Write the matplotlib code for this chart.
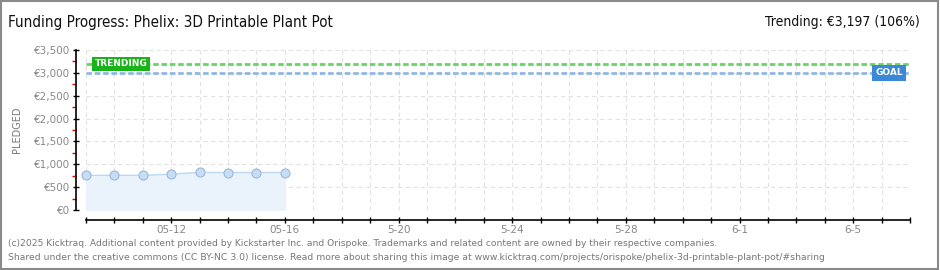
#!/usr/bin/python
# -*- coding: utf-8 -*-

import numpy as np
import matplotlib
matplotlib.use('Agg')
import matplotlib.pyplot as plt
import matplotlib.dates as mdates
from matplotlib.patches import Rectangle
import datetime as dt

dates = ['2025-05-09', '2025-05-10', '2025-05-11', '2025-05-12',
         '2025-05-13', '2025-05-14', '2025-05-15', '2025-05-16']
pledged = [758, 758, 758, 785, 822, 820, 820, 820]
goal = 3000
trending = 3197
x_start = '2025-05-09'
x_end = '2025-06-07'
title = 'Funding Progress: Phelix: 3D Printable Plant Pot'
trend_text = 'Trending: €3,197 (106%)'
footer = ['(c)2025 Kicktraq. Additional content provided by Kickstarter Inc. and Orispoke. '
          'Trademarks and related content are owned by their respective companies.',
          'Shared under the creative commons (CC BY-NC 3.0) license. Read more about sharing '
          'this image at www.kicktraq.com/projects/orispoke/phelix-3d-printable-plant-pot/#sharing']


def main():
    plt.rcParams['font.family'] = ['DejaVu Sans']
    d = [dt.datetime.strptime(s, '%Y-%m-%d') for s in dates]
    x0 = dt.datetime.strptime(x_start, '%Y-%m-%d')
    x1 = dt.datetime.strptime(x_end, '%Y-%m-%d')

    fig = plt.figure(figsize=(9.4, 2.7), dpi=100)
    fig.patches.append(Rectangle((0.001, 0.002), 0.997, 0.995, transform=fig.transFigure,
                                 fill=False, edgecolor='#8a8a8a', linewidth=1.5))
    ax = fig.add_axes([86 / 940, 1 - 210 / 270, 824 / 940, 160 / 270])

    ax.fill_between(d, pledged, 0, color='#eaf3fc', zorder=1)
    ax.plot(d, pledged, color='#bcd8f2', linewidth=1, zorder=2)
    ax.plot(d, pledged, 'o', markersize=6.5, markerfacecolor='#c6ddf6',
            markeredgecolor='#9db8d6', markeredgewidth=0.8, zorder=3, clip_on=False)

    ax.axhline(trending, color='#66d466', linewidth=2, dashes=(2, 1), zorder=2)
    ax.axhline(goal, color='#93b7e0', linewidth=2, dashes=(2, 1), zorder=2)

    ax.text(mdates.date2num(x0) + 0.3, trending, 'TRENDING', color='white', fontsize=6.5,
            fontweight='bold', va='center', ha='left', zorder=5,
            bbox=dict(boxstyle='square,pad=0.3', facecolor='#1bb31b', edgecolor='none'))
    ax.text(mdates.date2num(x1) - 0.25, goal, 'GOAL', color='white', fontsize=6.5,
            fontweight='bold', va='center', ha='right', zorder=5,
            bbox=dict(boxstyle='square,pad=0.35', facecolor='#3a89d8', edgecolor='none'))

    ax.set_xlim(x0, x1)
    ax.set_ylim(0, 3500)

    ticks = mdates.drange(x0, x1 + dt.timedelta(days=1), dt.timedelta(days=1))
    labels = []
    for t in ticks:
        day = mdates.num2date(t)
        if (day.date() - dt.date(2025, 5, 12)).days % 4 == 0:
            if day.month == 5 and day.day <= 16:
                labels.append(day.strftime('%m-%d'))
            else:
                labels.append('%d-%d' % (day.month, day.day))
        else:
            labels.append('')
    ax.set_xticks(ticks)
    ax.set_xticklabels(labels)

    ax.set_yticks(np.arange(0, 3501, 500))
    ax.set_yticklabels(['€{:,}'.format(v) for v in range(0, 3501, 500)])
    ax.set_yticks(np.arange(250, 3500, 500), minor=True)

    ax.grid(True, which='major', color='#e2e2e2', linestyle=(0, (4, 3)), linewidth=0.8)
    ax.set_axisbelow(True)

    for s in ['top', 'right']:
        ax.spines[s].set_visible(False)
    ax.spines['left'].set_position(('outward', 7.2))
    ax.spines['bottom'].set_position(('outward', 7.2))
    ax.spines['left'].set_linewidth(1.2)
    ax.spines['bottom'].set_linewidth(1.2)

    ax.tick_params(axis='x', which='major', direction='inout', length=5, width=1,
                   labelsize=7.5, labelcolor='#888888', pad=1)
    ax.tick_params(axis='y', which='major', direction='inout', length=5, width=1,
                   labelsize=7.5, labelcolor='#888888', pad=2)
    ax.tick_params(axis='y', which='minor', direction='out', length=3, width=1, color='#e00000')

    ax.set_ylabel('PLEDGED', fontsize=7, color='#777777', labelpad=8)

    fig.text(8 / 940, 1 - 22 / 270, title, fontsize=10.9, color='#111111', va='center',
             ha='left', fontstretch='condensed')
    fig.text(920 / 940, 1 - 22 / 270, trend_text, fontsize=10, color='#111111',
             va='center', ha='right', fontstretch='condensed')
    fig.text(8 / 940, 1 - 243 / 270, footer[0], fontsize=6.6, color='#777777', va='center')
    fig.text(8 / 940, 1 - 257 / 270, footer[1], fontsize=6.7, color='#777777', va='center')

    plt.savefig('out.png', dpi=100)


if __name__ == '__main__':
    main()
